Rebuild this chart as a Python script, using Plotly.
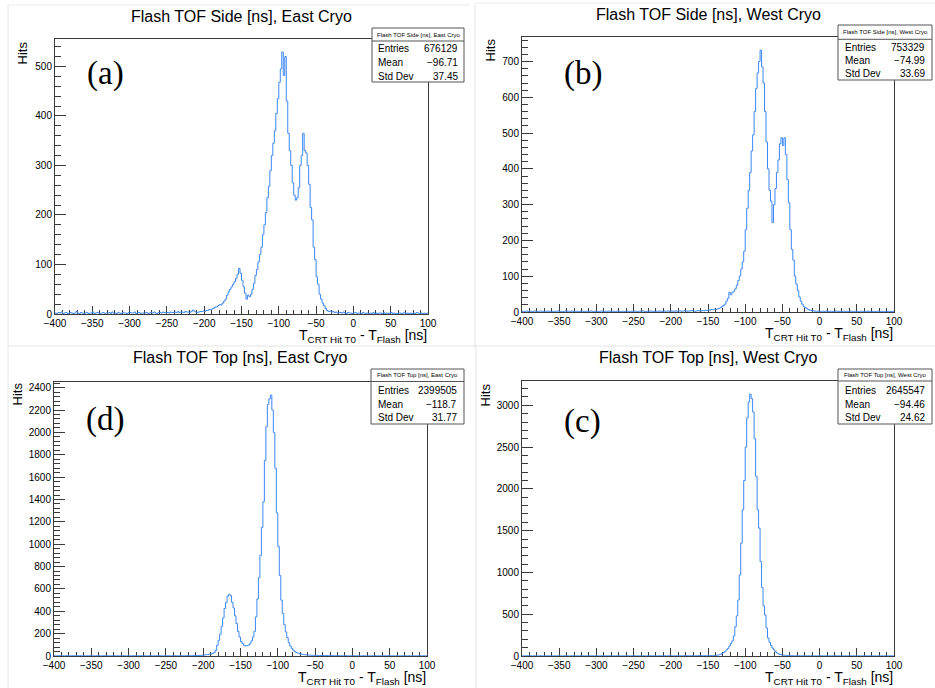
import plotly.graph_objects as go

W, H = 935, 688
BIN_LO = -400          # first bin edge [ns]
BIN_W = 2              # bin width [ns]

# ---------------- data: Flash TOF Side, East Cryo (a) ----------------
side_east_pre = [  # -400 .. -222
    2, 1, 3, 2, 4, 1, 2, 3, 1, 2,
    3, 2, 1, 2, 5, 2, 1, 3, 2, 1,
    2, 3, 1, 2, 2, 4, 1, 2, 3, 2,
    1, 2, 3, 1, 2, 2, 3, 1, 4, 2,
    2, 1, 3, 2, 1, 3, 2, 2, 1, 3,
    3, 2, 2, 4, 1, 2, 3, 1, 2, 2,
    2, 3, 1, 2, 3, 2, 4, 2, 1, 3,
    3, 2, 4, 3, 2, 3, 2, 4, 3, 3,
    4, 3, 5, 3, 4, 4, 3, 5, 4, 4]
side_east_peak = [  # -220 .. -20
    3, 5, 8, 6, 4, 3, 4, 5, 5, 6,
    5, 7, 7, 9, 9, 10, 12, 14, 14, 17,
    19, 18, 22, 26, 30, 38, 45, 50, 55, 60,
    65, 72, 80, 92, 82, 68, 55, 42, 30, 38,
    35, 40, 50, 62, 78, 90, 105, 120, 135, 160,
    180, 205, 235, 258, 290, 320, 345, 370, 405, 435,
    468, 495, 529, 482, 520, 430, 365, 330, 300, 265,
    240, 230, 235, 255, 300, 320, 365, 330, 325, 300,
    262, 215, 190, 135, 110, 75, 60, 40, 30, 22,
    17, 11, 7, 5, 6, 4, 5, 3, 4, 2,
    3]
side_east_post = [  # -18 .. 98
    3, 2, 4, 2, 1, 3, 2, 2, 1, 2,
    3, 1, 2, 2, 1, 3, 2, 1, 2, 1,
    2, 1, 3, 1, 2, 1, 2, 2, 1, 3,
    1, 2, 1, 2, 3, 1, 2, 1, 1, 2,
    2, 1, 2, 3, 1, 2, 1, 2, 1, 2,
    1, 3, 2, 1, 2, 1, 2, 1, 2]

# ---------------- data: Flash TOF Side, West Cryo (b) ----------------
side_west_pre = [  # -400 .. -162
    2, 1, 2, 3, 1, 2, 2, 1, 3, 2,
    1, 2, 3, 2, 1, 2, 2, 3, 1, 2,
    2, 1, 2, 2, 3, 1, 2, 1, 2, 3,
    2, 2, 1, 3, 2, 1, 2, 2, 1, 2,
    3, 1, 2, 2, 1, 2, 3, 2, 1, 2,
    2, 1, 2, 3, 2, 1, 2, 2, 3, 1,
    2, 2, 1, 2, 3, 2, 1, 2, 2, 1,
    3, 2, 1, 2, 2, 3, 2, 1, 2, 2,
    2, 3, 2, 1, 2, 2, 3, 2, 2, 1,
    2, 2, 3, 2, 2, 3, 2, 2, 3, 2,
    3, 2, 2, 3, 2, 3, 3, 2, 3, 4,
    3, 2, 3, 3, 4, 3, 2, 3, 4, 3]
side_west_peak = [  # -160 .. -10
    3, 4, 3, 5, 4, 6, 5, 7, 6, 8,
    7, 9, 10, 12, 15, 18, 22, 30, 38, 55,
    48, 55, 58, 65, 75, 88, 100, 120, 140, 170,
    230, 290, 340, 390, 450, 495, 560, 625, 668, 700,
    732, 685, 640, 560, 475, 400, 340, 310, 250, 300,
    345, 390, 425, 470, 487, 465, 487, 440, 370, 305,
    230, 175, 145, 100, 78, 60, 42, 30, 22, 15,
    12, 10, 7, 5, 4, 3]
side_west_post = [  # -8 .. 98
    3, 2, 2, 3, 1, 2, 2, 1, 3, 2,
    1, 2, 2, 1, 2, 3, 1, 2, 1, 2,
    2, 1, 2, 1, 3, 2, 1, 2, 1, 2,
    1, 2, 2, 1, 2, 1, 3, 1, 2, 1,
    2, 1, 2, 2, 1, 2, 1, 1, 2, 1,
    2, 1, 1, 2]

# ---------------- data: Flash TOF Top, East Cryo (d) ----------------
top_east_pre = [  # -400 .. -212
    2, 1, 2, 3, 1, 2, 2, 1, 3, 2,
    1, 2, 3, 2, 1, 2, 2, 3, 1, 2,
    2, 1, 2, 2, 3, 1, 2, 1, 2, 3,
    2, 2, 1, 3, 2, 1, 2, 2, 1, 2,
    3, 1, 2, 2, 1, 2, 3, 2, 1, 2,
    2, 1, 2, 3, 2, 1, 2, 2, 3, 1,
    2, 2, 1, 2, 3, 2, 1, 2, 2, 1,
    3, 2, 1, 2, 2, 3, 2, 1, 2, 2,
    2, 3, 2, 1, 2, 2, 3, 2, 3, 3,
    3, 2, 3, 4, 3]
top_east_peak = [  # -210 .. -40
    4, 5, 5, 6, 7, 8, 10, 12, 14, 17,
    18, 24, 32, 50, 95, 140, 195, 265, 340, 425,
    480, 535, 552, 540, 480, 430, 360, 290, 220, 170,
    130, 110, 96, 90, 92, 98, 110, 135, 170, 220,
    350, 510, 700, 900, 1150, 1380, 1750, 2050, 2250, 2300,
    2334, 2200, 2000, 1680, 1280, 980, 720, 500, 380, 280,
    215, 165, 120, 90, 68, 52, 40, 32, 26, 21,
    18, 16, 13, 11, 10, 9, 8, 7, 6, 6,
    5, 5, 4, 5, 4, 4]
top_east_post = [  # -38 .. 98
    4, 3, 4, 3, 3, 4, 3, 2, 3, 3,
    2, 3, 2, 2, 3, 2, 1, 2, 2, 3,
    2, 1, 2, 2, 1, 2, 3, 2, 1, 2,
    2, 1, 2, 2, 3, 1, 2, 2, 1, 2,
    2, 1, 3, 2, 1, 2, 2, 1, 2, 2,
    1, 2, 2, 1, 2, 1, 2, 2, 1, 2,
    1, 2, 1, 2, 2, 1, 2, 1, 2]

# ---------------- data: Flash TOF Top, West Cryo (c) ----------------
top_west_pre = [  # -400 .. -152
    2, 1, 2, 3, 1, 2, 2, 1, 3, 2,
    1, 2, 3, 2, 1, 2, 2, 3, 1, 2,
    2, 1, 2, 2, 3, 1, 2, 1, 2, 3,
    2, 2, 1, 3, 2, 1, 2, 2, 1, 2,
    3, 1, 2, 2, 1, 2, 3, 2, 1, 2,
    2, 1, 2, 3, 2, 1, 2, 2, 3, 1,
    2, 2, 1, 2, 3, 2, 1, 2, 2, 1,
    3, 2, 1, 2, 2, 3, 2, 1, 2, 2,
    2, 3, 2, 1, 2, 2, 3, 2, 2, 1,
    2, 2, 3, 2, 2, 3, 2, 2, 3, 2,
    3, 2, 2, 3, 2, 3, 3, 2, 3, 4,
    3, 2, 3, 3, 4, 3, 2, 3, 4, 3,
    3, 4, 3, 4, 3]
top_west_peak = [  # -150 .. -30
    3, 4, 4, 5, 6, 8, 10, 14, 20, 32,
    40, 52, 72, 90, 120, 150, 180, 240, 350, 480,
    670, 970, 1350, 1750, 2100, 2500, 2850, 3040, 3134, 3080,
    2920, 2600, 2150, 1750, 1530, 1130, 820, 600, 490, 335,
    215, 165, 125, 95, 72, 50, 35, 25, 18, 14,
    12, 10, 8, 6, 5, 4, 4, 3, 3, 2,
    3]
top_west_post = [  # -28 .. 98
    3, 2, 2, 3, 1, 2, 2, 1, 3, 2,
    1, 2, 2, 1, 2, 3, 1, 2, 1, 2,
    2, 1, 2, 1, 3, 2, 1, 2, 1, 2,
    1, 2, 2, 1, 2, 1, 3, 1, 2, 1,
    2, 1, 2, 2, 1, 2, 1, 1, 2, 1,
    2, 1, 1, 2, 2, 1, 2, 1, 2, 1,
    2, 1, 2, 1]

side_east = side_east_pre + side_east_peak + side_east_post
side_west = side_west_pre + side_west_peak + side_west_post
top_east = top_east_pre + top_east_peak + top_east_post
top_west = top_west_pre + top_west_peak + top_west_post

titles = ["Flash TOF Side [ns], East Cryo", "Flash TOF Side [ns], West Cryo",
          "Flash TOF Top [ns], East Cryo", "Flash TOF Top [ns], West Cryo"]
letters = ["(a)", "(b)", "(d)", "(c)"]
entries = ["676129", "753329", "2399505", "2645547"]
means = ["\u221296.71", "\u221274.99", "\u2212118.7", "\u221294.46"]
stddevs = ["37.45", "33.69", "31.77", "24.62"]
x_ticks = [-400, -350, -300, -250, -200, -150, -100, -50, 0, 50, 100]

LINE = "#3c87f5"
FRAME = "#3a3a3a"
SANS = "Liberation Sans, Arial, Helvetica, sans-serif"
SERIF = "Liberation Serif, Times New Roman, serif"


def X(px):
    return px / W


def Y(py):
    return 1 - py / H


# layout of the 4 panels (pixel geometry)
panels = [
    dict(counts=side_east, frame=(55, 428, 39, 314), dtick=100, minor=20,
         title_xy=(241, 16), letter_xy=(105, 74), hits_xy=(22, 40),
         box=(372, 464, 28, 82), sep=41, rows=(48.7, 62.7, 76.3), lab_x=376, val_x=460),
    dict(counts=side_west, frame=(522, 894, 37, 312), dtick=100, minor=20,
         title_xy=(708, 14), letter_xy=(583, 74), hits_xy=(490, 37),
         box=(838, 932, 25, 80), sep=39.3, rows=(47, 60.7, 74), lab_x=843, val_x=927),
    dict(counts=top_east, frame=(54, 427, 382, 656), dtick=200, minor=40,
         title_xy=(240, 357), letter_xy=(105, 419), hits_xy=(17, 381),
         box=(371, 464, 369, 424), sep=381.5, rows=(390, 404, 417.7), lab_x=376, val_x=459),
    dict(counts=top_west, frame=(522, 894, 381, 656), dtick=500, minor=100,
         title_xy=(708, 357), letter_xy=(582, 421), hits_xy=(485, 381),
         box=(838, 932, 369, 424), sep=381, rows=(390, 404, 417.7), lab_x=843, val_x=927),
]

fig = go.Figure()
annotations = []
shapes = []

# faint borders of the four original screenshots
for (x0, y0, x1, y1) in [(8, 5, 8, 346), (475, 3, 475, 346), (8, 346, 935, 346),
                         (8, 346, 8, 688), (476, 346, 476, 688)]:
    shapes.append(dict(type="line", xref="paper", yref="paper", x0=X(x0), x1=X(x1),
                       y0=Y(y0), y1=Y(y1), line=dict(color="#e4e4e4", width=1)))
shapes.append(dict(type="line", xref="paper", yref="paper", x0=X(8), x1=X(470),
                   y0=Y(5), y1=Y(5), line=dict(color="#ececec", width=1)))
shapes.append(dict(type="line", xref="paper", yref="paper", x0=X(475), x1=X(935),
                   y0=Y(3), y1=Y(3), line=dict(color="#ececec", width=1)))

for i, p in enumerate(panels):
    n = i + 1
    xa = "xaxis" if n == 1 else f"xaxis{n}"
    ya = "yaxis" if n == 1 else f"yaxis{n}"
    counts = p["counts"]
    edges = [BIN_LO + BIN_W * k for k in range(len(counts) + 1)]
    fig.add_trace(go.Scatter(
        x=edges, y=counts + [counts[-1]], mode="lines", line_shape="hv",
        line=dict(color=LINE, width=1), xaxis=f"x{'' if n == 1 else n}",
        yaxis=f"y{'' if n == 1 else n}", showlegend=False, hoverinfo="skip"))

    fx0, fx1, fy0, fy1 = p["frame"]
    ymax = 1.05 * max(counts)
    fig.layout[xa] = dict(
        domain=[X(fx0), X(fx1)], anchor=f"y{'' if n == 1 else n}", automargin=False,
        range=[-400, 100], tickvals=x_ticks, ticks="inside", ticklen=8,
        tickwidth=1, tickcolor=FRAME, showline=True, linecolor=FRAME, linewidth=1,
        mirror=True, showgrid=False, zeroline=False, layer="below traces",
        tickformat="d", tickfont=dict(family=SANS, size=10, color="black"),
        minor=dict(dtick=10, tick0=0, ticks="inside", ticklen=4, tickcolor=FRAME,
                   showgrid=False))
    fig.layout[ya] = dict(
        domain=[Y(fy1), Y(fy0)], anchor=f"x{'' if n == 1 else n}", automargin=False,
        range=[0, ymax], dtick=p["dtick"], tick0=0, ticks="inside", ticklen=11,
        tickwidth=1, tickcolor=FRAME, showline=True, linecolor=FRAME, linewidth=1,
        mirror=True, showgrid=False, zeroline=False, layer="below traces",
        tickformat="d", tickfont=dict(family=SANS, size=10, color="black"),
        minor=dict(dtick=p["minor"], tick0=0, ticks="inside", ticklen=6,
                   tickcolor=FRAME, showgrid=False))

    # title
    tx, ty = p["title_xy"]
    annotations.append(dict(xref="paper", yref="paper", x=X(tx), y=Y(ty),
                            text=titles[i], showarrow=False, xanchor="center",
                            yanchor="middle", font=dict(family=SANS, size=16, color="black")))
    # panel letter
    lx, ly = p["letter_xy"]
    annotations.append(dict(xref="paper", yref="paper", x=X(lx), y=Y(ly),
                            text=letters[i], showarrow=False, xanchor="center",
                            yanchor="middle", font=dict(family=SERIF, size=33, color="black")))
    # y title
    hx, hy = p["hits_xy"]
    annotations.append(dict(xref="paper", yref="paper", x=X(hx), y=Y(hy),
                            text="Hits", showarrow=False, textangle=-90, xanchor="center",
                            yanchor="top", font=dict(family=SANS, size=13, color="black")))
    # x title
    annotations.append(dict(xref="paper", yref="paper", x=X(fx1 + 1), y=Y(fy1 + 11),
                            text="T<sub>CRT Hit T0</sub> - T<sub>Flash</sub> [ns]",
                            showarrow=False, xanchor="right", yanchor="top",
                            font=dict(family=SANS, size=14, color="black")))
    # stats box
    bx0, bx1, by0, by1 = p["box"]
    shapes.append(dict(type="rect", xref="paper", yref="paper", x0=X(bx0), x1=X(bx1),
                       y0=Y(by1), y1=Y(by0), fillcolor="white",
                       line=dict(color="#555555", width=1), layer="above"))
    shapes.append(dict(type="line", xref="paper", yref="paper", x0=X(bx0), x1=X(bx1),
                       y0=Y(p["sep"]), y1=Y(p["sep"]),
                       line=dict(color="#555555", width=1), layer="above"))
    annotations.append(dict(xref="paper", yref="paper", x=X((bx0 + bx1) / 2),
                            y=Y((by0 + p["sep"]) / 2), text=titles[i], showarrow=False,
                            xanchor="center", yanchor="middle",
                            font=dict(family=SANS, size=6, color="black")))
    labels = ["Entries", "Mean", "Std Dev"]
    values = [entries[i], means[i], stddevs[i]]
    for ry, lab, val in zip(p["rows"], labels, values):
        annotations.append(dict(xref="paper", yref="paper", x=X(p["lab_x"]), y=Y(ry),
                                text=lab, showarrow=False, xanchor="left", yanchor="middle",
                                font=dict(family=SANS, size=10, color="black")))
        annotations.append(dict(xref="paper", yref="paper", x=X(p["val_x"]), y=Y(ry),
                                text=val, showarrow=False, xanchor="right", yanchor="middle",
                                font=dict(family=SANS, size=10, color="black")))

fig.update_layout(
    width=W, height=H, margin=dict(l=0, r=0, t=0, b=0, autoexpand=False),
    paper_bgcolor="white", plot_bgcolor="white",
    annotations=annotations, shapes=shapes, showlegend=False,
)

fig.write_html(
    "out.html",
    config={"displayModeBar": False, "staticPlot": True},
    post_script="document.body.style.margin='0';document.body.style.overflow='hidden';",
)
